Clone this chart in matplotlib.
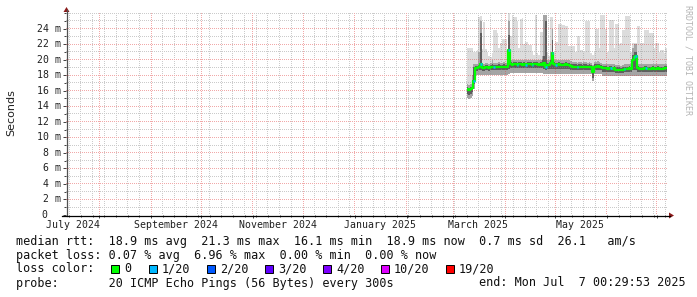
import matplotlib
matplotlib.use("Agg")
import matplotlib.pyplot as plt
import matplotlib.dates as mdates
import matplotlib.ticker as mticker
from matplotlib.lines import Line2D
from matplotlib.patches import Rectangle, Polygon
import numpy as np
import pandas as pd

# ---------------- data ----------------
end_time_str = "2025-07-07 00:29:53"
span_days = 360
first_day = "2025-03-09"          # first daily step with data

median_ms = [
    16.2, 16.1, 16.2, 16.4, 17.3, 18.9, 18.9, 19.0, 19.4, 18.9,
    18.9, 19.0, 19.0, 18.9, 19.0, 19.1, 19.0, 19.0, 19.0, 19.1,
    19.0, 19.0, 19.1, 19.0, 19.1, 21.3, 19.4, 19.3, 19.4, 19.4,
    19.3, 19.4, 19.4, 19.3, 19.4, 19.3, 19.4, 19.4, 19.4, 19.3,
    19.4, 19.4, 19.4, 19.3, 19.4, 19.3, 19.6, 19.1, 19.3, 19.3,
    19.5, 20.9, 19.4, 19.3, 19.3, 19.4, 19.3, 19.3, 19.3, 19.4,
    19.3, 19.3, 19.2, 19.1, 19.1, 19.1, 19.0, 19.1, 19.1, 19.0,
    19.1, 19.1, 19.0, 19.1, 19.0, 18.4, 19.1, 19.1, 19.2, 19.1,
    19.0, 18.9, 18.9, 18.9, 18.8, 18.9, 18.9, 18.8, 18.9, 18.7,
    18.7, 18.7, 18.6, 18.7, 18.8, 18.8, 18.8, 18.9, 18.8, 20.0,
    20.4, 20.5, 18.9, 18.8, 18.8, 18.8, 18.9, 18.9, 18.8, 18.8,
    18.8, 18.9, 18.8, 18.8, 18.9, 18.8, 18.8, 18.8, 18.9, 18.9,
]

loss_count = [
    0, 0, 0, 0, 1, 0, 0, 0, 1, 0,
    0, 0, 0, 0, 0, 0, 1, 0, 0, 0,
    0, 0, 0, 0, 0, 1, 0, 0, 0, 0,
    1, 0, 0, 0, 0, 1, 0, 0, 0, 1,
    0, 0, 0, 0, 0, 0, 0, 1, 0, 0,
    0, 1, 0, 1, 0, 0, 0, 0, 0, 0,
    0, 0, 0, 0, 0, 0, 1, 0, 0, 0,
    0, 0, 0, 0, 0, 0, 0, 0, 0, 0,
    0, 0, 0, 0, 0, 0, 1, 0, 0, 0,
    0, 0, 0, 0, 1, 0, 0, 0, 0, 0,
    1, 1, 0, 0, 0, 0, 0, 1, 0, 0,
    0, 0, 0, 0, 0, 0, 0, 0, 0, 0,
]

rtt_lo_ms = [
    15.0, 14.9, 15.0, 15.3, 16.2, 18.0, 18.0, 18.0, 18.0, 18.0,
    18.0, 18.0, 18.0, 18.0, 18.0, 18.0, 18.0, 18.0, 18.0, 18.0,
    18.0, 18.0, 18.0, 18.0, 18.0, 18.2, 18.3, 18.3, 18.3, 18.3,
    18.3, 18.3, 18.3, 18.3, 18.3, 18.3, 18.3, 18.3, 18.3, 18.3,
    18.3, 18.3, 18.3, 18.3, 18.3, 18.3, 18.2, 18.2, 18.2, 18.2,
    18.2, 18.2, 18.2, 18.2, 18.2, 18.2, 18.2, 18.2, 18.2, 18.2,
    18.2, 18.2, 18.2, 18.1, 18.1, 18.1, 18.1, 18.1, 18.1, 18.1,
    18.1, 18.1, 18.1, 18.1, 18.1, 17.3, 18.1, 18.1, 18.1, 18.1,
    18.1, 17.9, 17.9, 17.9, 17.9, 17.9, 17.9, 17.9, 17.9, 17.9,
    17.9, 17.9, 17.9, 17.9, 17.9, 17.9, 17.9, 17.9, 17.9, 17.9,
    17.9, 17.9, 17.9, 17.9, 17.9, 17.9, 17.9, 17.9, 17.9, 17.9,
    17.9, 17.9, 17.9, 17.9, 17.9, 17.9, 17.9, 17.9, 17.9, 17.9,
]

core_lo_ms = [
    15.6, 15.5, 15.6, 15.8, 16.8, 18.5, 18.5, 18.6, 18.6, 18.5,
    18.5, 18.6, 18.6, 18.5, 18.6, 18.6, 18.6, 18.6, 18.6, 18.6,
    18.6, 18.6, 18.6, 18.6, 18.6, 18.8, 18.9, 18.9, 18.9, 18.9,
    18.9, 18.9, 18.9, 18.9, 18.9, 18.9, 18.9, 18.9, 18.9, 18.9,
    18.9, 18.9, 18.9, 18.9, 18.9, 18.9, 18.8, 18.7, 18.8, 18.8,
    18.8, 18.8, 18.8, 18.8, 18.8, 18.8, 18.8, 18.8, 18.8, 18.8,
    18.8, 18.8, 18.7, 18.7, 18.7, 18.7, 18.6, 18.7, 18.7, 18.6,
    18.7, 18.7, 18.6, 18.7, 18.6, 17.6, 18.7, 18.7, 18.7, 18.7,
    18.6, 18.4, 18.4, 18.4, 18.4, 18.4, 18.4, 18.4, 18.4, 18.3,
    18.3, 18.3, 18.3, 18.3, 18.4, 18.4, 18.4, 18.4, 18.4, 18.6,
    18.7, 18.7, 18.4, 18.4, 18.4, 18.4, 18.4, 18.4, 18.4, 18.4,
    18.4, 18.4, 18.4, 18.4, 18.4, 18.4, 18.4, 18.4, 18.4, 18.4,
]

core_hi_ms = [
    16.5, 16.4, 16.5, 17.4, 19.0, 19.2, 19.2, 19.3, 23.4, 19.2,
    19.2, 19.3, 19.3, 19.2, 19.3, 19.4, 19.3, 19.3, 19.3, 19.4,
    19.3, 19.3, 19.4, 19.3, 19.4, 23.2, 19.7, 19.6, 19.7, 19.7,
    19.6, 19.7, 19.7, 19.6, 19.7, 19.6, 19.7, 19.7, 19.7, 19.6,
    19.7, 19.7, 19.7, 19.6, 19.7, 19.9, 20.5, 25.0, 19.6, 19.6,
    20.0, 22.5, 19.7, 19.6, 19.6, 19.7, 19.6, 19.6, 19.6, 19.7,
    19.6, 19.6, 19.5, 19.4, 19.4, 19.4, 19.3, 19.4, 19.4, 19.3,
    19.4, 19.4, 19.3, 19.4, 19.3, 19.0, 19.4, 19.4, 19.5, 19.4,
    19.3, 19.2, 19.2, 19.2, 19.1, 19.2, 19.2, 19.1, 19.2, 19.0,
    19.0, 19.0, 18.9, 19.0, 19.1, 19.1, 19.1, 19.2, 19.1, 20.6,
    21.0, 21.0, 19.2, 19.1, 19.1, 19.1, 19.2, 19.2, 19.1, 19.1,
    19.1, 19.2, 19.1, 19.1, 19.2, 19.1, 19.1, 19.1, 19.2, 19.2,
]

rtt_hi_ms = [
    16.8, 16.7, 16.8, 18.0, 19.5, 19.5, 19.5, 21.0, 25.0, 19.5,
    19.5, 19.6, 19.6, 19.5, 19.6, 20.0, 19.6, 19.6, 19.6, 19.7,
    19.6, 19.6, 19.7, 19.6, 19.7, 25.0, 20.0, 19.9, 20.0, 20.0,
    19.9, 20.0, 20.0, 19.9, 20.0, 19.9, 20.0, 20.0, 20.0, 19.9,
    20.0, 20.0, 20.0, 19.9, 20.0, 20.5, 25.8, 25.7, 19.9, 19.9,
    21.0, 24.0, 20.0, 19.9, 19.9, 20.0, 19.9, 19.9, 19.9, 20.0,
    19.9, 19.9, 19.8, 19.7, 19.7, 19.7, 19.6, 19.7, 19.7, 19.6,
    19.7, 19.7, 19.6, 19.7, 19.6, 19.3, 19.7, 19.7, 19.8, 19.7,
    19.6, 19.5, 19.5, 19.5, 19.4, 19.5, 19.5, 19.4, 19.5, 19.3,
    19.3, 19.3, 19.2, 19.3, 19.4, 19.4, 19.4, 19.5, 19.4, 21.5,
    22.0, 22.0, 19.5, 19.4, 19.4, 19.4, 19.5, 19.5, 19.4, 19.4,
    19.4, 19.5, 19.4, 19.4, 19.5, 19.4, 19.4, 19.4, 19.5, 19.5,
]

rtt_max_ms = [
    21.5, 21.5, 21.5, 21.5, 21.0, 21.0, 21.2, 25.5, 25.6, 21.4,
    24.8, 21.4, 21.0, 20.5, 20.4, 20.8, 23.8, 23.8, 23.4, 21.5,
    22.1, 22.6, 22.7, 22.7, 21.0, 26.0, 23.0, 25.8, 25.5, 25.5,
    25.0, 21.5, 25.2, 25.3, 22.0, 22.3, 22.3, 21.9, 21.9, 21.0,
    20.6, 25.8, 20.8, 20.6, 23.6, 23.6, 25.8, 25.7, 21.0, 20.5,
    25.5, 25.5, 21.0, 22.3, 22.3, 24.6, 24.6, 24.5, 24.5, 24.3,
    24.3, 21.7, 21.7, 21.7, 21.7, 21.0, 23.1, 23.1, 21.2, 21.2,
    21.0, 25.0, 25.0, 25.0, 20.8, 20.6, 21.0, 24.0, 24.0, 21.5,
    25.7, 25.7, 25.7, 24.0, 21.0, 25.1, 25.1, 25.1, 21.5, 24.6,
    24.6, 22.0, 22.2, 23.8, 23.8, 25.6, 25.6, 25.6, 21.0, 22.2,
    22.2, 22.2, 24.3, 24.3, 22.2, 22.2, 23.8, 23.8, 23.8, 23.4,
    23.4, 23.4, 21.5, 22.2, 22.2, 21.0, 21.2, 21.2, 20.9, 21.5,
]

y_ticks_ms = [0, 2, 4, 6, 8, 10, 12, 14, 16, 18, 20, 22, 24]
y_minor_ms = list(range(1, 27))
y_max_ms = 26

month_labels = ["July 2024", "September 2024", "November 2024",
                "January 2025", "March 2025", "May 2025"]
month_label_starts = ["2024-07-01", "2024-09-01", "2024-11-01",
                      "2025-01-01", "2025-03-01", "2025-05-01"]

loss_levels = [0, 1, 2, 3, 4, 10, 19]
loss_labels = ["0", "1/20", "2/20", "3/20", "4/20", "10/20", "19/20"]
loss_colors = ["#00ff00", "#00b8ff", "#0059ff", "#5e00ff", "#7e00ff", "#dd00ff", "#ff0000"]

line_rtt = "median rtt:  18.9 ms avg  21.3 ms max  16.1 ms min  18.9 ms now  0.7 ms sd  26.1   am/s"
line_loss = "packet loss: 0.07 % avg  6.96 % max  0.00 % min  0.00 % now"
line_probe = "probe:       20 ICMP Echo Pings (56 Bytes) every 300s"
line_end = "end: Mon Jul  7 00:29:53 2025"

# ---------------- layout ----------------
W, H = 697, 297
fig = plt.figure(figsize=(W / 100, H / 100), dpi=100)
fig.patch.set_facecolor("white")

AX_L, AX_R, AX_T, AX_B = 66, 667, 13, 215
ax = fig.add_axes([AX_L / W, 1 - AX_B / H, (AX_R - AX_L) / W, (AX_B - AX_T) / H])
ax.set_facecolor("white")

def fx(x):
    return x / W

def fy(y):
    return 1 - y / H

MONO = "DejaVu Sans Mono"

end_time = pd.Timestamp(end_time_str)
start_time = end_time - pd.Timedelta(days=span_days)
XL = (mdates.date2num(start_time), mdates.date2num(end_time))
ax.set_xlim(*XL)
ax.set_ylim(0, y_max_ms)

n = len(median_ms)
day_starts = pd.date_range(first_day, periods=n, freq="D")
xs = mdates.date2num(day_starts)
xs_ext = np.append(xs, xs[-1] + 1)

def ext(a):
    a = np.asarray(a, dtype=float)
    return np.append(a, a[-1])

# smoke
ax.fill_between(xs_ext, ext(rtt_lo_ms), ext(rtt_max_ms), step="post",
                color="#dcdcdc", lw=0, zorder=1)
ax.fill_between(xs_ext, ext(rtt_lo_ms), ext(rtt_hi_ms), step="post",
                color="#a4a4a4", lw=0, zorder=1.1)
ax.fill_between(xs_ext, ext(core_lo_ms), ext(core_hi_ms), step="post",
                color="#5e5e5e", lw=0, zorder=1.2)

# median line coloured by loss
def loss_color(c):
    col = loss_colors[0]
    for lv, cl in zip(loss_levels, loss_colors):
        if c >= lv:
            col = cl
    return col

ax.step(xs_ext, ext(median_ms), where="post", color=loss_colors[0], lw=1.6,
        zorder=3, solid_capstyle="butt")
for i in range(n):
    if loss_count[i] > 0:
        ax.hlines(median_ms[i], xs[i], xs[i] + 1, color=loss_color(loss_count[i]),
                  lw=1.8, zorder=3.1)

# ticks (grid itself is rasterised below as 1px dotted lines)
ax.xaxis.set_major_locator(mdates.MonthLocator())
ax.xaxis.set_minor_locator(mdates.WeekdayLocator(byweekday=mdates.SU))
ax.yaxis.set_major_locator(mticker.FixedLocator(y_ticks_ms))
ax.yaxis.set_minor_locator(mticker.FixedLocator(y_minor_ms))
ax.tick_params(which="major", length=2.5, width=0.7, color="#404040",
               labelbottom=False, labelleft=False)
ax.tick_params(which="minor", length=1.4, width=0.7, color="#404040")
for s in ax.spines.values():
    s.set_visible(False)

# dotted pixel grid
bb = ax.bbox
gw, gh = int(round(bb.width)), int(round(bb.height))
grid = np.zeros((gh, gw, 4))
minor_rgba = (0.55, 0.55, 0.55, 0.45)
major_rgba = (0.88, 0.25, 0.25, 0.45)

def col_of(xd):
    return int(np.floor(ax.transData.transform((xd, 0))[0] - bb.x0))

def row_of(yd):
    yy = ax.transData.transform((XL[0], yd))[1] - bb.y0
    return int(min(gh - 1, max(0, np.floor(gh - yy))))

def vline(xd, rgba):
    c = col_of(xd)
    if 0 <= c < gw:
        grid[0::2, c, :] = rgba

def hline(yd, rgba):
    r = row_of(yd)
    grid[r, 0::2, :] = rgba

for xd in ax.xaxis.get_minorticklocs():
    vline(xd, minor_rgba)
for yd in y_minor_ms:
    if yd not in y_ticks_ms:
        hline(yd, minor_rgba)
for xd in ax.xaxis.get_majorticklocs():
    vline(xd, major_rgba)
for yd in y_ticks_ms:
    if yd > 0:
        hline(yd, major_rgba)

ax.imshow(grid, extent=(XL[0], XL[1], 0, y_max_ms), aspect="auto",
          interpolation="nearest", zorder=2.5)
ax.set_xlim(*XL)
ax.set_ylim(0, y_max_ms)

# axes lines and arrows
fig.add_artist(Line2D([fx(AX_L + 0.5), fx(AX_L + 0.5)], [fy(AX_B + 1), fy(AX_T - 3)],
                      color="#505050", lw=0.9))
fig.add_artist(Line2D([fx(AX_L - 4), fx(AX_R + 3)], [fy(AX_B + 0.5), fy(AX_B + 0.5)],
                      color="#000000", lw=0.9))
fig.add_artist(Polygon([[fx(AX_L - 2.5), fy(AX_T - 1)], [fx(AX_L + 3.5), fy(AX_T - 1)],
                        [fx(AX_L + 0.5), fy(AX_T - 6)]], closed=True,
                       color="#8b1a1a", lw=0))
fig.add_artist(Polygon([[fx(AX_R + 2), fy(AX_B - 2.5)], [fx(AX_R + 2), fy(AX_B + 3.5)],
                        [fx(AX_R + 7), fy(AX_B + 0.5)]], closed=True,
                       color="#8b1a1a", lw=0))

# y tick labels
blend_y = matplotlib.transforms.blended_transform_factory(fig.transFigure, ax.transData)
for v in y_ticks_ms:
    if v == 0:
        ax.text(fx(47), v, "0", transform=blend_y, ha="right", va="center",
                family=MONO, fontsize=7.1, color="#202020")
    else:
        ax.text(fx(61), v, f"{v} m", transform=blend_y, ha="right", va="center",
                family=MONO, fontsize=7.1, color="#202020")

# x labels (centred half a month after month start, rrdtool style)
blend_x = matplotlib.transforms.blended_transform_factory(ax.transData, fig.transFigure)
for lab, ms in zip(month_labels, month_label_starts):
    xpos = mdates.date2num(pd.Timestamp(ms) + pd.Timedelta(days=15))
    ax.text(xpos, fy(225), lab, transform=blend_x, ha="center", va="center",
            family=MONO, fontsize=7.1, color="#202020")

# axis title and watermark
fig.text(fx(11), fy(113), "Seconds", rotation=90, ha="center", va="center",
         family="DejaVu Sans", fontsize=8.0, color="#202020")
fig.text(fx(688), fy(60), "RRDTOOL / TOBI OETIKER", rotation=270, ha="center",
         va="center", family=MONO, fontsize=6.0, color="#b4b4b4")

# legend block
LEG = 8.5
fig.text(fx(16), fy(241), line_rtt, ha="left", va="center", family=MONO, fontsize=LEG, color="#101010")
fig.text(fx(16), fy(255), line_loss, ha="left", va="center", family=MONO, fontsize=LEG, color="#101010")
fig.text(fx(16), fy(269), "loss color:", ha="left", va="center", family=MONO, fontsize=LEG, color="#101010")
box_x = [111, 149, 207, 265, 323, 381, 446]
for bx, lab, col in zip(box_x, loss_labels, loss_colors):
    fig.add_artist(Rectangle((fx(bx), fy(273)), 8 / W, 8 / H, facecolor=col,
                             edgecolor="#000000", lw=0.7))
    fig.text(fx(bx + 13), fy(269), lab, ha="left", va="center", family=MONO,
             fontsize=LEG, color="#101010")
fig.text(fx(16), fy(283), line_probe, ha="left", va="center", family=MONO, fontsize=LEG, color="#101010")
fig.text(fx(479), fy(283), line_end, ha="left", va="center", family=MONO, fontsize=LEG, color="#101010")

fig.savefig("out.png", dpi=100, facecolor="white")
